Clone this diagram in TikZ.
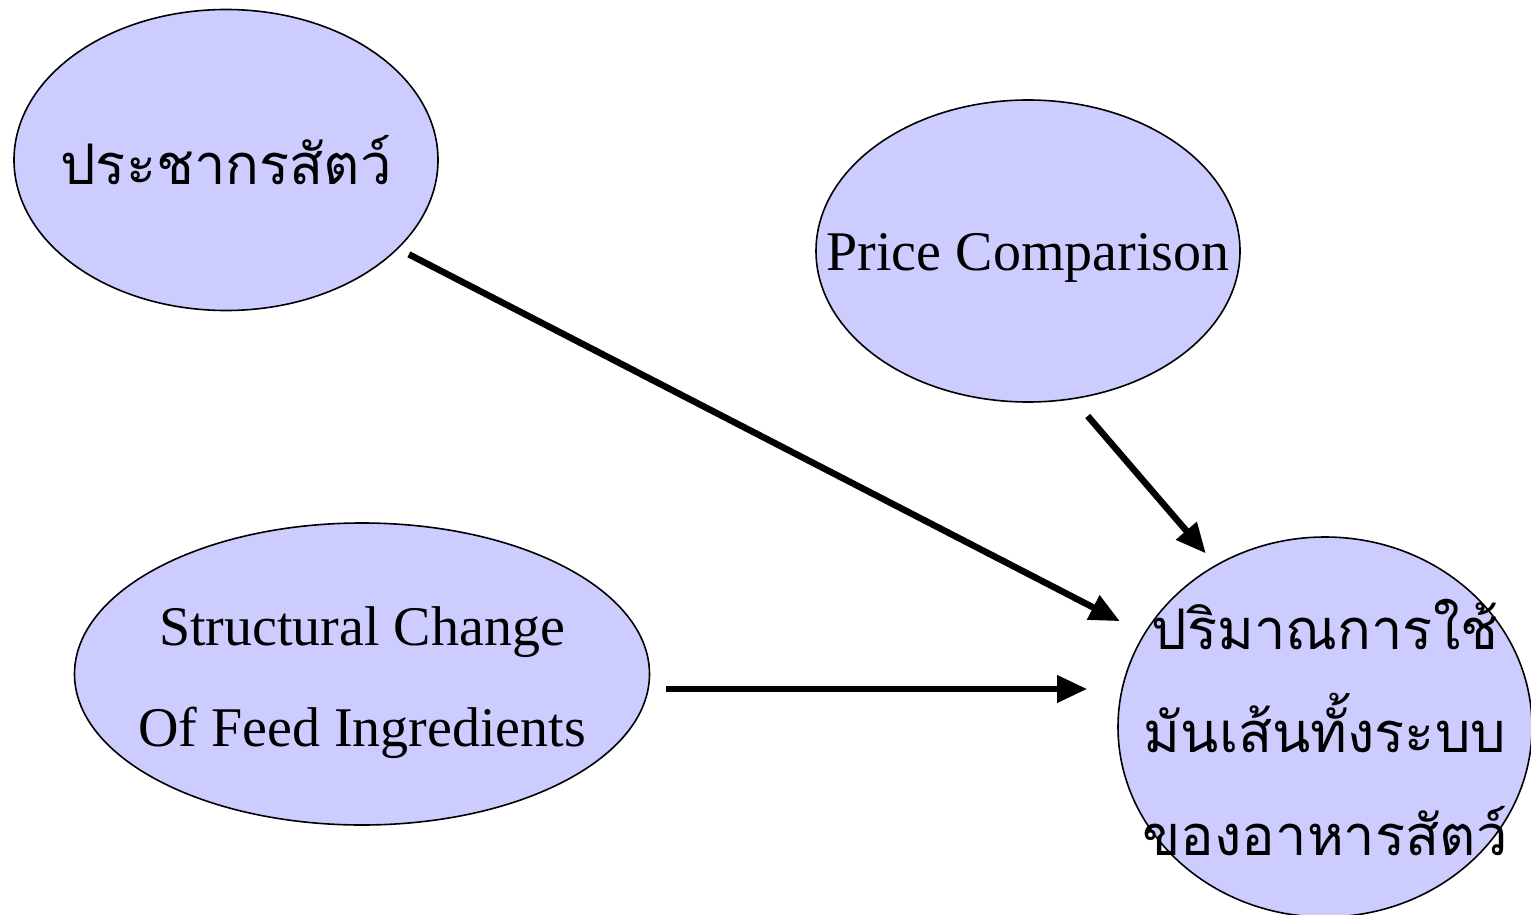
\documentclass[tikz,border=0pt]{standalone}
\usepackage{fontspec}
\setmainfont{Liberation Serif}
\newfontfamily\thaifont[Script=Thai]{Loma}
\usepackage{tikz}
\usetikzlibrary{positioning,arrows.meta,shapes.geometric}
\definecolor{bubblefill}{RGB}{204,204,255}
\tikzset{
  bubble/.style={ellipse, draw=black, line width=1.6pt, fill=bubblefill, inner sep=0pt},
  engtext/.style={font=\fontsize{56}{101}\selectfont, align=center, inner sep=0pt},
  thaitext/.style={font=\thaifont\fontsize{56}{103}\selectfont, align=center, inner sep=0pt},
  fwd/.style={-{Triangle[length=30pt,width=26pt]}, line width=6.5pt},
}

\begin{document}
\begin{tikzpicture}[x=1pt,y=-1pt]
  \fill[white] (0,0) rectangle (1531,915);
  \useasboundingbox (0,0) rectangle (1531,915);

  \node[bubble, minimum width=424pt, minimum height=301pt] (animal) at (226,160) {};
  \node[bubble, minimum width=424pt, minimum height=302pt] (price) at (1028,251) {};
  \node[bubble, minimum width=575pt, minimum height=302pt] (struct) at (362,674) {};
  \node[bubble, minimum width=414pt, minimum height=380pt] (usage) at (1325,727) {};

  \node[thaitext] (animal-text) at (animal) {ประชากรสัตว์};
  \node[engtext, yshift=-7pt] (price-text) at (price) {Price Comparison};
  \node[engtext, yshift=-9pt] (struct-text) at (struct) {Structural Change\\Of Feed Ingredients};
  \node[thaitext] (usage-text) at (usage) {ปริมาณการใช้\\มันเส้นทั้งระบบ\\ของอาหารสัตว์};

  \draw[fwd, shorten <=12pt, shorten >=27pt] (animal) -- (usage);
  \draw[fwd, shorten <=22pt, shorten >=15pt] (price.287) -- (usage.124);
  \draw[fwd, shorten <=16pt, shorten >=30pt] ([yshift=-15pt]struct.east) -- ([yshift=-15pt]struct.east -| usage.west);

\end{tikzpicture}
\end{document}
